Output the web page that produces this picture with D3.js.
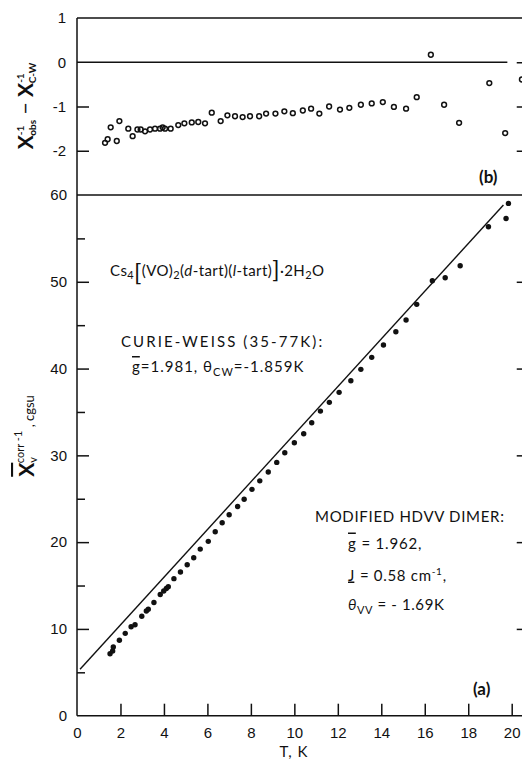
<!DOCTYPE html>
<html>
<head>
<meta charset="utf-8">
<script src="https://cdn.jsdelivr.net/npm/d3@7"></script>
<style>
  body { margin: 0; background: #fff; }
  svg { display: block; font-family: Lato, "DejaVu Sans", sans-serif; }
  .tick text { font-size: 15px; fill: #111; }
  .tick line { stroke: #111; stroke-width: 1.5; }
</style>
</head>
<body>
<div id="graph"></div>
<script>
// panel (a): inverse susceptibility vs T
const tempA = [1.52, 1.64, 1.67, 1.95, 2.22, 2.49, 2.67, 2.98, 3.19, 3.28, 3.54, 3.83, 3.99, 4.11, 4.2, 4.46, 4.76, 5.07, 5.37, 5.67,
  6.04, 6.36, 6.68, 7.0, 7.39, 7.69, 8.05, 8.41, 8.8, 9.19, 9.56, 10.0, 10.43, 10.8, 11.2, 11.61, 12.06, 12.6, 13.06, 13.56,
  14.1, 14.67, 15.14, 15.63, 16.35, 16.94, 17.63, 18.93, 19.74, 19.85];
const chiInvA = [7.13, 7.45, 7.91, 8.69, 9.49, 10.25, 10.48, 11.46, 12.06, 12.26, 13.04, 13.96, 14.37, 14.65, 14.86, 15.79, 16.56, 17.4, 18.2, 19.2,
  20.09, 21.2, 22.24, 23.16, 24.1, 24.94, 26.08, 27.06, 28.08, 29.19, 30.3, 31.45, 32.49, 33.76, 35.1, 36.11, 37.26, 38.59, 39.91, 41.29,
  42.71, 44.24, 45.59, 47.4, 50.12, 50.46, 51.84, 56.34, 57.3, 59.03];
// Curie-Weiss line (ends)
const fitT = [0.14, 19.62];
const fitChi = [5.35, 58.85];

// panel (b): residuals
const tempB = [1.29, 1.41, 1.55, 1.83, 1.95, 2.36, 2.56, 2.78, 2.93, 3.13, 3.36, 3.59, 3.82, 3.94, 4.05, 4.31, 4.66, 4.94, 5.28, 5.58,
  5.89, 6.2, 6.61, 6.92, 7.27, 7.62, 7.96, 8.38, 8.7, 9.13, 9.54, 9.93, 10.39, 10.77, 11.15, 11.6, 12.1, 12.53, 13.06, 13.56,
  14.07, 14.58, 15.14, 15.63, 16.28, 16.89, 17.58, 18.97, 19.7, 20.47];
const diffB = [-1.82, -1.74, -1.47, -1.78, -1.33, -1.5, -1.67, -1.52, -1.52, -1.56, -1.52, -1.5, -1.5, -1.47, -1.5, -1.5, -1.42, -1.38, -1.36, -1.35,
  -1.38, -1.14, -1.33, -1.2, -1.22, -1.24, -1.22, -1.22, -1.16, -1.16, -1.11, -1.15, -1.09, -1.05, -1.16, -1.0, -1.07, -1.03, -0.96, -0.93,
  -0.9, -1.01, -1.05, -0.79, 0.17, -0.96, -1.37, -0.47, -1.6, -0.39];

const xTicks = [2, 4, 6, 8, 10, 12, 14, 16, 18, 20];
const xLabels = [0, 2, 4, 6, 8, 10, 12, 14, 16, 18, 20];
const yTicksA = [0, 10, 20, 30, 40, 50, 60];
const yMinorA = [5, 15, 25, 35, 45, 55];
const yTicksB = [1, 0, -1, -2];

const w = 522;
const h = 761;
const ink = "#111";

const x = d3.scaleLinear().domain([0, 20]).range([77, 511.7]);
const xEnd = x(20.6);
const yA = d3.scaleLinear().domain([0, 60]).range([715.7, 195]);
const yB = d3.scaleLinear().domain([-3, 1]).range([195, 18]);

const svg = d3.select("#graph").append("svg").attr("width", w).attr("height", h);

// frame lines
const frame = [
  [x(0), yB(1), x(0), yA(0)],
  [x(0), yB(1), xEnd, yB(1)],
  [x(0), yA(60), xEnd, yA(60)],
  [x(0), yA(0), xEnd, yA(0)],
  [xEnd, yB(1), xEnd, yA(0)],
  [x(0), yB(0), x(19.8), yB(0)],
];
svg.append("g").selectAll("line").data(frame).enter().append("line")
  .attr("x1", (d) => d[0]).attr("y1", (d) => d[1]).attr("x2", (d) => d[2]).attr("y2", (d) => d[3])
  .attr("stroke", ink).attr("stroke-width", 1.5);

// bottom axis, ticks pointing in
svg.append("g").attr("transform", `translate(0,${yA(0)})`)
  .call(d3.axisBottom(x).tickValues(xTicks).tickSizeInner(-12).tickSizeOuter(0).tickFormat(""))
  .select(".domain").remove();
svg.append("g").attr("transform", `translate(0,${yA(0)})`)
  .call(d3.axisBottom(x).tickValues(xLabels).tickSize(0).tickPadding(12).tickFormat((d) => d))
  .select(".domain").remove();

// left axis (a)
svg.append("g").attr("transform", `translate(${x(0)},0)`)
  .call(d3.axisLeft(yA).tickValues(yTicksA).tickSizeInner(-12).tickSizeOuter(0).tickPadding(10))
  .call((g) => g.selectAll(".tick").filter((d) => d === 0 || d === 60).select("line").remove())
  .select(".domain").remove();
svg.append("g").attr("transform", `translate(${x(0)},0)`)
  .call(d3.axisLeft(yA).tickValues(yMinorA).tickSizeInner(-8).tickSizeOuter(0).tickFormat(""))
  .select(".domain").remove();

// left axis (b)
svg.append("g").attr("transform", `translate(${x(0)},0)`)
  .call(d3.axisLeft(yB).tickValues(yTicksB).tickSizeInner(-12).tickSizeOuter(0).tickPadding(11).tickFormat((d) => String(d)))
  .call((g) => g.selectAll(".tick").filter((d) => d >= 0).select("line").remove())
  .select(".domain").remove();

// right side ticks
svg.append("g").attr("transform", `translate(${xEnd},0)`)
  .call(d3.axisRight(yA).tickValues([10, 20, 30, 40, 50]).tickSizeInner(-8).tickSizeOuter(0).tickFormat(""))
  .select(".domain").remove();
svg.append("g").attr("transform", `translate(${xEnd},0)`)
  .call(d3.axisRight(yB).tickValues([0, -1, -2]).tickSizeInner(-8).tickSizeOuter(0).tickFormat(""))
  .select(".domain").remove();

// Curie-Weiss line
svg.append("line")
  .attr("x1", x(fitT[0])).attr("y1", yA(fitChi[0]))
  .attr("x2", x(fitT[1])).attr("y2", yA(fitChi[1]))
  .attr("stroke", ink).attr("stroke-width", 1.4);

// points
svg.append("g").selectAll("circle").data(tempA.map((t, i) => [t, chiInvA[i]])).enter().append("circle")
  .attr("cx", (d) => x(d[0])).attr("cy", (d) => yA(d[1])).attr("r", 2.7).attr("fill", ink);

svg.append("g").selectAll("circle").data(tempB.map((t, i) => [t, diffB[i]])).enter().append("circle")
  .attr("cx", (d) => x(d[0])).attr("cy", (d) => yB(d[1])).attr("r", 2.4)
  .attr("fill", "none").attr("stroke", ink).attr("stroke-width", 1.5);

// helper for text with sub/sup runs
const rich = (parent, px, py, parts, size, extra) => {
  const t = parent.append("text").attr("x", px).attr("y", py).attr("font-size", size).attr("fill", ink);
  if (extra) extra(t);
  parts.forEach((p) => {
    const s = t.append("tspan").text(p.t);
    if (p.fs) s.attr("font-size", p.fs);
    if (p.dy) s.attr("dy", p.dy);
    if (p.dx) s.attr("dx", p.dx);
    if (p.st) s.attr("font-style", p.st);
    if (p.fw) s.attr("font-weight", p.fw);
    if (p.deco) s.attr("text-decoration", p.deco);
    if (p.ls !== undefined) s.attr("letter-spacing", p.ls);
  });
  return t;
};

// formula
rich(svg, 110, 276, [
  { t: "Cs" }, { t: "4", fs: 11, dy: 3 },
  { t: "[", fs: 24, dy: 2 }, { t: "(VO)", dy: -5 }, { t: "2", fs: 11, dy: 3 },
  { t: "(", dy: -3 }, { t: "d", st: "italic" }, { t: "-tart)(" }, { t: "l", st: "italic" }, { t: "-tart)" },
  { t: "]", fs: 24, dy: 2 }, { t: "·2H", dy: -2 }, { t: "2", fs: 11, dy: 3 }, { t: "O", dy: -3 },
], 15, (t) => t.attr("letter-spacing", 0.4));

rich(svg, 121, 347, [{ t: "CURIE-WEISS (35-77K):" }], 15, (t) => t.attr("letter-spacing", 2.1));
rich(svg, 132, 372, [
  { t: "g", deco: "overline underline", ls: 0 }, { t: "=1.981, θ", dx: 1 }, { t: "CW", fs: 11, dy: 4 }, { t: "=-1.859K", dy: -4 },
], 15, (t) => t.attr("letter-spacing", 1.0));

rich(svg, 315, 522, [{ t: "MODIFIED HDVV DIMER:" }], 15, (t) => t.attr("letter-spacing", 0.7));
rich(svg, 348, 548.5, [{ t: "g", deco: "overline underline", ls: 0 }, { t: " = 1.962,", dx: 1 }], 15, (t) => t.attr("letter-spacing", 0.8));
rich(svg, 348, 580.5, [{ t: "J", deco: "underline", ls: 0 }, { t: " = 0.58 cm", dx: 1 }, { t: "-1", fs: 10, dy: -6 }, { t: ",", dy: 6 }], 15, (t) => t.attr("letter-spacing", 0.7));
rich(svg, 348, 610, [{ t: "θ", st: "italic" }, { t: "VV", fs: 11, dy: 4 }, { t: " = - 1.69K", dy: -4 }], 15, (t) => t.attr("letter-spacing", 0.6));

rich(svg, 479, 183, [{ t: "(b)" }], 17, (t) => t.attr("font-weight", "bold"));
rich(svg, 473, 695, [{ t: "(a)" }], 17, (t) => t.attr("font-weight", "bold"));

svg.append("text").attr("x", 294).attr("y", 757).attr("text-anchor", "middle")
  .attr("font-size", 15).attr("fill", ink).attr("letter-spacing", 1).text("T, K");

// y titles
const tb = svg.append("g").attr("transform", "translate(33,106) rotate(-90)");
rich(tb, 0, 0, [
  { t: "X", fw: "bold" }, { t: "-1", fs: 10, dy: -9, fw: "bold" }, { t: "obs", fs: 10, dx: -10, dy: 12, fw: "bold" },
  { t: " − ", dy: -3 }, { t: "X", fw: "bold", dy: 0 }, { t: "-1", fs: 10, dy: -9, fw: "bold" }, { t: "C-W", fs: 10, dx: -10, dy: 12, fw: "bold" },
], 21, (t) => t.attr("text-anchor", "middle"));

const ta = svg.append("g").attr("transform", "translate(34,436) rotate(-90)");
rich(ta, 0, 0, [
  { t: "X", fw: "bold", deco: "overline" }, { t: "v", fs: 11, dy: 3 }, { t: "corr", fs: 11, dx: -6, dy: -13 },
  { t: " -1", fs: 11, dy: -2 }, { t: " ,  cgsu", fs: 13, dy: 12 },
], 21, (t) => t.attr("text-anchor", "middle"));
</script>
</body>
</html>
